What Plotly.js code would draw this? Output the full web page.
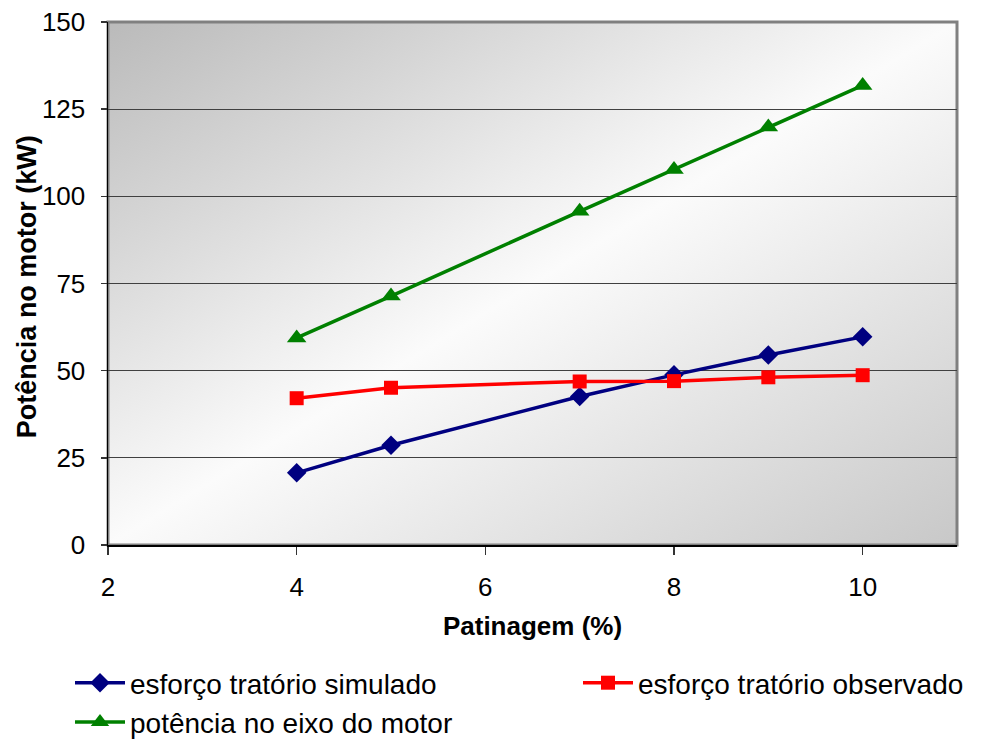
<!DOCTYPE html>
<html>
<head>
<meta charset="utf-8">
<script src="https://cdn.plot.ly/plotly-3.0.1.min.js"></script>
<style>html,body{margin:0;padding:0;background:#fff;}#chart{width:989px;height:742px;}</style>
</head>
<body>
<div id="chart"></div>
<script>
// Data
const patinagem = [4, 5, 7, 8, 9, 10];
const esforcoSimulado = [20.7, 28.6, 42.6, 48.8, 54.5, 59.7];
const esforcoObservado = [42.1, 45.1, 46.9, 47.0, 48.1, 48.7];
const potenciaEixo = [59.4, 71.4, 95.7, 107.7, 119.9, 131.8];
const seriesNames = ["esforço tratório simulado", "esforço tratório observado", "potência no eixo do motor"];
const xTicks = [2, 4, 6, 8, 10];
const yTicks = [0, 25, 50, 75, 100, 125, 150];
const xTitle = "Patinagem (%)";
const yTitle = "Potência no motor (kW)";

const FONT = "Liberation Sans, Arial, sans-serif";

const gradSvg = "<svg xmlns='http://www.w3.org/2000/svg' width='100' height='100' viewBox='0 0 100 100' preserveAspectRatio='none'>" +
  "<defs><linearGradient id='g' x1='0' y1='0' x2='1' y2='1'>" +
  "<stop offset='0' stop-color='#bababa'/><stop offset='0.5' stop-color='#fbfbfb'/><stop offset='1' stop-color='#c8c8c8'/>" +
  "</linearGradient></defs><rect x='0' y='0' width='100' height='100' fill='url(#g)'/></svg>";
const gradUri = "data:image/svg+xml;charset=utf-8," + encodeURIComponent(gradSvg);

const traces = [
  {x: patinagem, y: esforcoSimulado, name: seriesNames[0], mode: "lines+markers",
   line: {color: "#000080", width: 3.5}, marker: {symbol: "diamond", size: 15, color: "#000080"}, legend: "legend"},
  {x: patinagem, y: esforcoObservado, name: seriesNames[1], mode: "lines+markers",
   line: {color: "#ff0000", width: 3.5}, marker: {symbol: "square", size: 14, color: "#ff0000"}, legend: "legend2"},
  {x: patinagem, y: potenciaEixo, name: seriesNames[2], mode: "lines+markers",
   line: {color: "#008000", width: 3.5}, marker: {symbol: "triangle-up", size: 17, color: "#008000"}, legend: "legend"}
];

const layout = {
  width: 989, height: 742,
  margin: {l: 108, r: 32, t: 22, b: 197, autoexpand: false},
  paper_bgcolor: "#ffffff",
  plot_bgcolor: "rgba(0,0,0,0)",
  font: {family: FONT, color: "#000000", size: 26},
  showlegend: true,
  xaxis: {
    range: [2, 11], tickvals: xTicks, ticktext: xTicks.map(String),
    showgrid: false, zeroline: false, automargin: false,
    showline: true, linecolor: "#000000", linewidth: 1.5,
    ticks: "outside", ticklen: 8, tickwidth: 1.5, tickcolor: "#333333",
    tickfont: {family: FONT, size: 26, color: "#000"},
    ticklabelstandoff: 10,
    title: {text: xTitle, font: {family: FONT, size: 26, weight: "bold", color: "#000"}, standoff: 16}
  },
  yaxis: {
    range: [0, 150], tickvals: yTicks, ticktext: yTicks.map(String),
    showgrid: true, gridcolor: "#404040", gridwidth: 1, zeroline: false, automargin: false,
    showline: true, linecolor: "#000000", linewidth: 1.5,
    ticks: "outside", ticklen: 6, tickwidth: 1.5, tickcolor: "#333333",
    tickfont: {family: FONT, size: 26, color: "#000"},
    ticklabelstandoff: 10
  },
  annotations: [{
    text: "<b>" + yTitle + "</b>", xref: "paper", yref: "paper",
    x: -81/849, y: 0.493, xanchor: "center", yanchor: "middle",
    textangle: -90, showarrow: false,
    font: {family: FONT, size: 27, color: "#000"}
  }],
  legend: {
    orientation: "v", xref: "container", yref: "container",
    x: 70/989, xanchor: "left", y: 1 - 658/742, yanchor: "top",
    bgcolor: "rgba(0,0,0,0)", borderwidth: 0, tracegroupgap: 0,
    font: {family: FONT, size: 28, color: "#000"}, itemwidth: 50
  },
  legend2: {
    orientation: "v", xref: "container", yref: "container",
    x: 578/989, xanchor: "left", y: 1 - 658/742, yanchor: "top",
    bgcolor: "rgba(0,0,0,0)", borderwidth: 0,
    font: {family: FONT, size: 28, color: "#000"}, itemwidth: 50
  },
  images: [{
    source: gradUri, xref: "paper", yref: "paper", x: 0, y: 1, sizex: 1, sizey: 1,
    xanchor: "left", yanchor: "top", sizing: "stretch", layer: "below"
  }],
  shapes: [{
    type: "rect", xref: "paper", yref: "paper", x0: 0, y0: 0, x1: 1, y1: 1,
    line: {color: "#808080", width: 3}, fillcolor: "rgba(0,0,0,0)", layer: "below"
  }]
};

Plotly.newPlot("chart", traces, layout, {displayModeBar: false, staticPlot: true});
</script>
</body>
</html>
